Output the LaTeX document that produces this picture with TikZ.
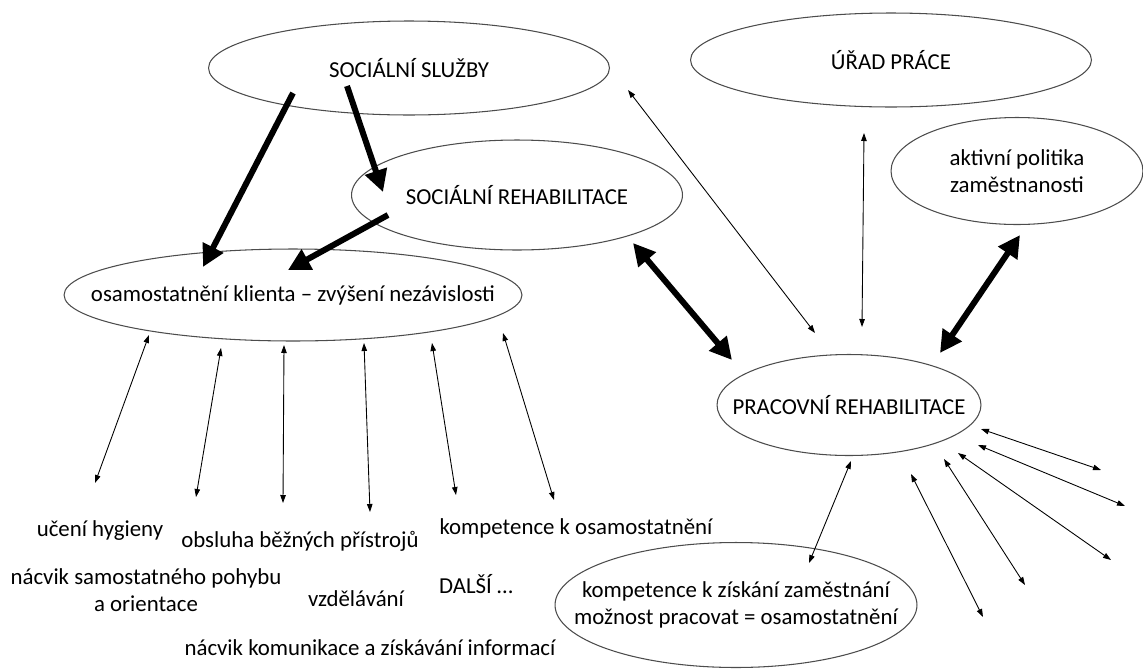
\documentclass[tikz,border=0pt]{standalone}
\usepackage{fontspec}
\setmainfont{Carlito}
\usepackage{tikz}
\usetikzlibrary{positioning, shapes.geometric, arrows.meta}
\tikzstyle{oval} = [ellipse, draw=black!70, line width=0.6pt, inner xsep=-2cm, inner ysep=-0.6cm, text centered, align=center]
\tikzstyle{txt} = [inner sep=0pt, align=center]
\tikzstyle{bigarrow} = [line width=3.4pt, -{Triangle[length=0.44cm,width=0.44cm]}]
\tikzstyle{bigdarrow} = [line width=3.4pt, {Triangle[length=0.44cm,width=0.44cm]}-{Triangle[length=0.44cm,width=0.44cm]}]
\tikzstyle{thinarrow} = [line width=0.5pt, {Triangle[length=1.6mm,width=1.1mm]}-{Triangle[length=1.6mm,width=1.1mm]}]
\tikzstyle{every node}=[font=\fontsize{13}{15.4}\selectfont]

\begin{document}
\begin{tikzpicture}[x=0.02cm, y=-0.02cm]
		\useasboundingbox (0,0) rectangle (1143,670);
		% ovals
		\node (socsluz) [oval, minimum width=8.02cm, minimum height=1.88cm] at (409,68) {SOCIÁLNÍ SLUŽBY};
		\node (urad) [oval, minimum width=8.02cm, minimum height=1.88cm] at (891,60) {ÚŘAD PRÁCE};
		\node (socreh) [oval, minimum width=6.62cm, minimum height=2.2cm] at (517,195) {SOCIÁLNÍ REHABILITACE};
		\node (apz) [oval, minimum width=5.04cm, minimum height=2.14cm] at (1017,171) {aktivní politika\\zaměstnanosti};
		\node (osam) [oval, minimum width=9.16cm, minimum height=1.84cm] at (293,295) {osamostatnění klienta – zvýšení nezávislosti};
		\node (prac) [oval, minimum width=5.28cm, minimum height=2.02cm] at (849,405) {PRACOVNÍ REHABILITACE};
		\node (komp) [oval, minimum width=7.24cm, minimum height=2.5cm] at (736,605) {kompetence k získání zaměstnání\\možnost pracovat = osamostatnění};
		% texts
		\node (hyg) [txt] at (100,531) {učení hygieny};
		\node (obs) [txt] at (300,541) {obsluha běžných přístrojů};
		\node (kos) [txt] at (576,528) {kompetence k osamostatnění};
		\node (pohyb) [txt] at (146,590) {nácvik samostatného pohybu\\a orientace};
		\node (vzd) [txt] at (356,599) {vzdělávání};
		\node (dalsi) [txt] at (476,584) {DALŠÍ …};
		\node (komun) [txt] at (370,648) {nácvik komunikace a získávání informací};
		% thick arrows
		\coordinate (a1) at (293,93);   \coordinate (a2) at (203,267);
		\coordinate (b1) at (347,86);   \coordinate (b2) at (383,192);
		\coordinate (c1) at (388,215);  \coordinate (c2) at (288,270);
		\coordinate (d1) at (633,243);  \coordinate (d2) at (732,360);
		\coordinate (e1) at (1020,235); \coordinate (e2) at (940,353);
		\draw [bigarrow](a1) -- (a2);
		\draw [bigarrow](b1) -- (b2);
		\draw [bigarrow](c1) -- (c2);
		\draw [bigdarrow](d1) -- (d2);
		\draw [bigdarrow](e1) -- (e2);
		% thin arrows
		\foreach \n/\xa/\ya/\xb/\yb in {1/628/90/815/333, 2/864/133/862/327,
			3/149/335/95/483, 4/221/348/196/497, 5/284/345/283/503, 6/364/343/370/512,
			7/432/343/456/495, 8/503/333/554/500,
			9/851/461/809/563, 10/981/429/1101/470, 11/978/445/1125/506,
			12/958/453/1111/560, 13/944/459/1025/585, 14/911/474/983/617}{
			\coordinate (t\n a) at (\xa,\ya);
			\coordinate (t\n b) at (\xb,\yb);
			\draw [thinarrow](t\n a) -- (t\n b);
		}
	\end{tikzpicture}
\end{document}
